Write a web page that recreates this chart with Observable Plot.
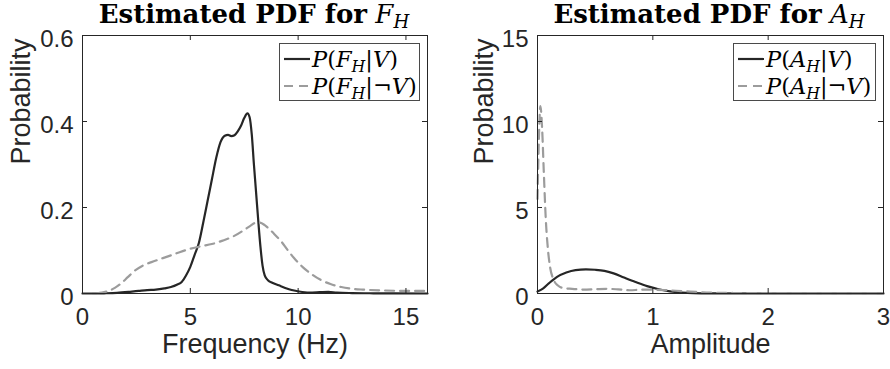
<!DOCTYPE html>
<html>
<head>
<meta charset="utf-8">
<script src="https://cdn.jsdelivr.net/npm/d3@7"></script>
<script src="https://cdn.jsdelivr.net/npm/@observablehq/plot@0.6"></script>
<style>
  body { margin: 0; background: #fff; }
  #fig { position: relative; width: 890px; height: 369px; overflow: hidden; background: #fff; }
  .panel { position: absolute; top: 0; width: 445px; height: 369px; }
  .panel svg { overflow: visible; }
  .title {
    position: absolute; top: 1px; line-height: 26px; white-space: nowrap;
    transform: translateX(-50%);
    font-family: "DejaVu Serif", serif; font-size: 26px; color: #000;
  }
  .title b { font-weight: bold; }
  .math { font-family: "DejaVu Serif", serif; font-style: italic; font-weight: normal; }
  .sub { font-size: 0.7em; position: relative; top: 0.3em; }
  .legend {
    position: absolute; top: 43px; height: 58px; box-sizing: border-box;
    border: 1px solid #4a4a4a; background: #fff;
    font-family: "DejaVu Serif", serif; font-size: 22.5px; color: #000;
  }
  .row { position: absolute; left: 4px; height: 26px; display: flex; align-items: center; white-space: nowrap; }
  .row svg { margin-right: 2px; }
  .up { font-style: normal; }
</style>
</head>
<body>
<div id="fig"></div>
<script>
// Kernel density estimates of the harmonic frequency F_H (Hz)
const freqX_V   = [0, 0.42, 1.0, 1.6, 2.2, 2.6, 3.0, 3.4, 3.8, 4.1, 4.4, 4.6, 4.8, 5.0, 5.2, 5.4, 5.6, 5.8, 6.0, 6.2, 6.4, 6.6, 6.75, 6.9, 7.05, 7.2, 7.35, 7.5, 7.65, 7.75, 7.85, 7.95, 8.05, 8.15, 8.25, 8.35, 8.45, 8.6, 8.8, 9.1, 9.4, 9.7, 10.0, 10.5, 11.0, 11.4, 11.8, 12.5, 13.5, 14.5, 16];
const freqP_V   = [0, 0, 0.0005, 0.0015, 0.004, 0.006, 0.008, 0.009, 0.012, 0.015, 0.021, 0.027, 0.042, 0.062, 0.09, 0.118, 0.165, 0.215, 0.265, 0.315, 0.352, 0.367, 0.369, 0.366, 0.368, 0.377, 0.39, 0.408, 0.419, 0.41, 0.37, 0.3, 0.235, 0.17, 0.11, 0.065, 0.042, 0.031, 0.025, 0.019, 0.013, 0.008, 0.005, 0.002, 0.003, 0.004, 0.002, 0.001, 0.0005, 0.0003, 0];
const freqX_NV  = [0, 0.5, 0.9, 1.2, 1.5, 1.8, 2.1, 2.4, 2.8, 3.2, 3.6, 4.0, 4.5, 5.0, 5.5, 6.0, 6.5, 7.0, 7.5, 7.8, 8.0, 8.2, 8.45, 8.7, 8.9, 9.2, 9.5, 9.8, 10.2, 10.6, 11.0, 11.5, 12.0, 12.5, 13.0, 14, 15, 16];
const freqP_NV  = [0, 0, 0.002, 0.006, 0.013, 0.024, 0.038, 0.052, 0.065, 0.073, 0.08, 0.087, 0.096, 0.104, 0.11, 0.115, 0.123, 0.133, 0.148, 0.158, 0.164, 0.165, 0.159, 0.148, 0.138, 0.122, 0.102, 0.083, 0.062, 0.046, 0.033, 0.022, 0.015, 0.011, 0.009, 0.007, 0.006, 0.006];

// Kernel density estimates of the harmonic amplitude A_H
const ampX_V    = [0, 0.05, 0.1, 0.17, 0.25, 0.33, 0.42, 0.5, 0.58, 0.66, 0.75, 0.85, 0.95, 1.05, 1.15, 1.25, 1.35, 1.5, 2.0, 3.0];
const ampP_V    = [0.12, 0.3, 0.6, 0.97, 1.22, 1.36, 1.4, 1.38, 1.32, 1.17, 0.93, 0.67, 0.43, 0.25, 0.12, 0.055, 0.02, 0.005, 0.001, 0];
const ampX_NV   = [0, 0.012, 0.025, 0.04, 0.055, 0.072, 0.09, 0.11, 0.14, 0.18, 0.22, 0.3, 0.4, 0.5, 0.6, 0.7, 0.8, 0.9, 1.0, 1.1, 1.2, 1.3, 1.4, 1.5, 1.7, 2.0, 2.5, 3.0];
const ampP_NV   = [5.5, 9.0, 10.9, 9.6, 7.0, 4.3, 2.6, 1.5, 0.8, 0.45, 0.32, 0.27, 0.23, 0.25, 0.27, 0.24, 0.19, 0.22, 0.22, 0.2, 0.16, 0.12, 0.08, 0.05, 0.03, 0.02, 0.01, 0.005];

// Axis ticks
const freqTicks = [0, 5, 10, 15];
const freqProbTicks = [0, 0.2, 0.4, 0.6];
const ampTicks = [0, 1, 2, 3];
const ampProbTicks = [0, 5, 10, 15];

const zip = (xs, ys) => xs.map((x, i) => ({x, y: ys[i]}));

const DARK = "#262626";
const GREY = "#9c9c9c";
const W = 445, H = 369, MT = 35, MB = 76;

function panel({xDomain, yDomain, xTicks, yTicks, xLabel, yLabel, given, notGiven, marginLeft, marginRight, labelDx}) {
  const fw = W - marginLeft - marginRight;
  const fh = H - MT - MB;
  return Plot.plot({
    width: W, height: H,
    marginLeft, marginRight, marginTop: MT, marginBottom: MB,
    style: {fontFamily: "'Liberation Sans', Arial, Helvetica, sans-serif", color: DARK, background: "transparent", overflow: "visible"},
    x: {domain: xDomain},
    y: {domain: yDomain},
    marks: [
      Plot.line(given, {x: "x", y: "y", stroke: DARK, strokeWidth: 2.2, curve: "monotone-x"}),
      Plot.line(notGiven, {x: "x", y: "y", stroke: GREY, strokeWidth: 2.2, strokeDasharray: "9,6", curve: "monotone-x"}),
      Plot.frame({stroke: DARK, strokeWidth: 1}),
      // inward ticks on all four sides
      Plot.tickX(xTicks, {x: d => d, insetTop: fh - 5, stroke: DARK}),
      Plot.tickX(xTicks, {x: d => d, insetBottom: fh - 5, stroke: DARK}),
      Plot.tickY(yTicks, {y: d => d, insetRight: fw - 5, stroke: DARK}),
      Plot.tickY(yTicks, {y: d => d, insetLeft: fw - 5, stroke: DARK}),
      Plot.axisX(xTicks, {tickSize: 0, tickPadding: 14, fontSize: 24, tickFormat: d => `${d}`, label: null}),
      Plot.axisY(yTicks, {tickSize: 0, tickPadding: 9, fontSize: 24, dy: 4, tickFormat: d => `${d}`, label: null}),
      Plot.text([xLabel], {frameAnchor: "bottom", dy: 59, fontSize: 27, fill: DARK}),
      Plot.text([yLabel], {frameAnchor: "left", rotate: -90, dx: labelDx, fontSize: 27, fill: DARK})
    ]
  });
}

const fig = document.getElementById("fig");

function addPanel(left, chart) {
  const div = document.createElement("div");
  div.className = "panel";
  div.style.left = left + "px";
  div.appendChild(chart);
  fig.appendChild(div);
}

addPanel(0, panel({
  xDomain: [0, 16], yDomain: [0, 0.6],
  xTicks: freqTicks, yTicks: freqProbTicks,
  xLabel: "Frequency (Hz)", yLabel: "Probability",
  given: zip(freqX_V, freqP_V), notGiven: zip(freqX_NV, freqP_NV),
  marginLeft: 82, marginRight: 18, labelDx: -61
}));

addPanel(445, panel({
  xDomain: [0, 3], yDomain: [0, 15],
  xTicks: ampTicks, yTicks: ampProbTicks,
  xLabel: "Amplitude", yLabel: "Probability",
  given: zip(ampX_V, ampP_V), notGiven: zip(ampX_NV, ampP_NV),
  marginLeft: 92, marginRight: 7, labelDx: -53
}));

// Titles
function addTitle(cx, sym) {
  const t = document.createElement("div");
  t.className = "title";
  t.style.left = cx + "px";
  t.innerHTML = `<b>Estimated PDF for</b> <span class="math">${sym}<span class="sub">H</span></span>`;
  fig.appendChild(t);
}
addTitle(254, "F");
addTitle(709, "A");

// Legends
function sample(dashed) {
  return `<svg width="26" height="10"><line x1="0" y1="5" x2="26" y2="5" stroke="${dashed ? GREY : DARK}" stroke-width="2.2" ${dashed ? 'stroke-dasharray="9,6"' : ''}/></svg>`;
}
function addLegend(left, width, sym) {
  const lg = document.createElement("div");
  lg.className = "legend";
  lg.style.left = left + "px";
  lg.style.width = width + "px";
  const term = neg => `<span class="math">P<span class="up">(</span>${sym}<span class="sub">H</span><span class="up">|${neg ? "¬" : ""}</span>V<span class="up">)</span></span>`;
  lg.innerHTML =
    `<div class="row" style="top:2px">${sample(false)}${term(false)}</div>` +
    `<div class="row" style="top:29px">${sample(true)}${term(true)}</div>`;
  fig.appendChild(lg);
}
addLegend(279, 141, "F");
addLegend(733, 143, "A");
</script>
</body>
</html>
